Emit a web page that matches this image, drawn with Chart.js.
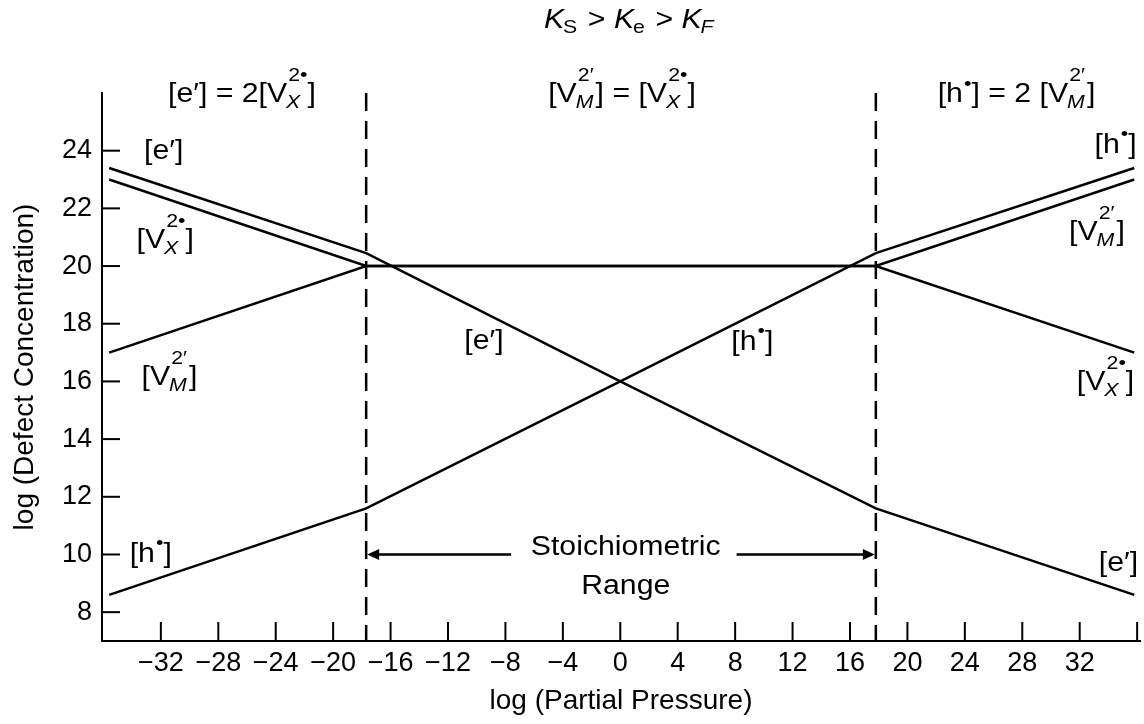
<!DOCTYPE html>
<html>
<head>
<meta charset="utf-8">
<script src="https://cdn.jsdelivr.net/npm/chart.js@4.4.0/dist/chart.umd.min.js"></script>
<style>
  html, body { margin: 0; padding: 0; background: #fff; }
</style>
</head>
<body>
<canvas id="defect-chart" width="1144" height="724"></canvas>
<script>
// log(partial pressure) break points of the Brouwer diagram
const pressure = [-35.6, -17.7, 0, 17.8, 35.8];
const electrons = [23.4, 20.45, 16, 11.6, 8.6];
const holes = [8.6, 11.6, 16, 20.45, 23.4];
const vacancyPressure = [-35.6, -17.7, 17.8, 35.8];
const anionVacancies = [23.0, 20, 20, 17.0];
const cationVacancies = [17.0, 20, 20, 23.0];
const rangeBounds = [-17.7, 17.8];
const rangeArrowY = 10;
const rangeArrowGap = [-7.6, 8.1];
const yTicks = [8, 10, 12, 14, 16, 18, 20, 22, 24];
const xTicks = [-32, -28, -24, -20, -16, -12, -8, -4, 0, 4, 8, 12, 16, 20, 24, 28, 32];
const xTickMarks = xTicks.concat([36]);

const INK = "#000";
const FONT = '"Liberation Sans", Arial, sans-serif';
const SX = 1.12;

const VX = [{ t: "[V" }, { sup: "2\u2022", sub: "X" }, { t: "]" }];
const VM = [{ t: "[V" }, { sup: "2\u2032", sub: "M" }, { t: "]" }];
const E = [{ t: "[e\u2032]" }];
const H = [{ t: "[h" }, { sup: "\u2022", rise: 0.46 }, { t: "]" }];

const labels = [
  { x: -31.8, y: 23.96, parts: E },
  { x: -31.7, y: 20.88, parts: VX },
  { x: -31.4, y: 16.12, parts: VM },
  { x: -32.7, y: 9.99, parts: H },
  { x: -9.5, y: 17.37, parts: E },
  { x: 9.2, y: 17.34, parts: H },
  { x: 34.5, y: 24.17, parts: H },
  { x: 33.2, y: 21.15, parts: VM },
  { x: 33.8, y: 15.95, parts: VX },
  { x: 34.7, y: 9.67, parts: E },
  { x: -26.35, y: 25.93, parts: E.concat([{ t: " = 2" }], VX) },
  { x: 0.12, y: 25.93, parts: VM.concat([{ t: " = " }], VX) },
  { x: 27.6, y: 25.93, parts: H.concat([{ t: " = 2 " }], VM) },
  { x: 0.38, y: 10.24, parts: [{ t: "Stoichiometric" }] },
  { x: 0.38, y: 8.89, parts: [{ t: "Range" }] },
  {
    x: 0.67, y: 28.48,
    parts: [
      { t: "K", it: true }, { sub: "S", drop: 0.15 }, { t: " > " },
      { t: "K", it: true }, { sub: "e", drop: 0.15 }, { t: " > " },
      { t: "K", it: true }, { sub: "F", drop: 0.15 },
    ],
  },
];

function scriptFont(s, small) {
  return (s.match(/[XMF]/) ? "italic " : "") + small + "px " + FONT;
}

function drawRich(ctx, parts, cx, cy, size) {
  const small = Math.round(size * 0.72);
  ctx.save();
  const widths = parts.map((p) => {
    if (p.t) {
      ctx.font = (p.it ? "italic " : "") + size + "px " + FONT;
      return ctx.measureText(p.t).width;
    }
    let a = 0, b = 0;
    if (p.sup) {
      ctx.font = small + "px " + FONT;
      a = ctx.measureText(p.sup).width;
    }
    if (p.sub) {
      ctx.font = scriptFont(p.sub, small);
      b = ctx.measureText(p.sub).width;
    }
    return Math.max(a, b) + 1;
  });
  const total = widths.reduce((s, v) => s + v, 0);
  ctx.translate(cx, cy + size * 0.26);
  ctx.scale(SX, 1);
  ctx.fillStyle = INK;
  ctx.textAlign = "left";
  ctx.textBaseline = "alphabetic";
  let x = -total / 2;
  parts.forEach((p, i) => {
    if (p.t) {
      ctx.font = (p.it ? "italic " : "") + size + "px " + FONT;
      ctx.fillText(p.t, x, 0);
    } else {
      if (p.sup) {
        ctx.font = small + "px " + FONT;
        ctx.fillText(p.sup, x + 1, -size * (p.rise || 0.78));
      }
      if (p.sub) {
        ctx.font = scriptFont(p.sub, small);
        ctx.fillText(p.sub, x - 1, size * (p.drop || 0.22));
      }
    }
    x += widths[i];
  });
  ctx.restore();
}

const annotations = {
  id: "annotations",
  afterDatasetsDraw(chart) {
    const { ctx, chartArea, scales } = chart;
    const xs = scales.x, ys = scales.y;
    ctx.save();
    ctx.strokeStyle = INK;
    ctx.fillStyle = INK;
    ctx.lineWidth = 2;
    // inward tick marks
    xs.ticks.forEach((t) => {
      const px = xs.getPixelForValue(t.value);
      ctx.beginPath();
      ctx.moveTo(px, chartArea.bottom);
      ctx.lineTo(px, chartArea.bottom - 19);
      ctx.stroke();
    });
    ys.ticks.forEach((t) => {
      const py = ys.getPixelForValue(t.value);
      ctx.beginPath();
      ctx.moveTo(chartArea.left, py);
      ctx.lineTo(chartArea.left + 18, py);
      ctx.stroke();
    });
    // stoichiometric range arrows
    const ay = ys.getPixelForValue(rangeArrowY);
    const x0 = xs.getPixelForValue(rangeBounds[0]);
    const x1 = xs.getPixelForValue(rangeBounds[1]);
    const g0 = xs.getPixelForValue(rangeArrowGap[0]);
    const g1 = xs.getPixelForValue(rangeArrowGap[1]);
    ctx.lineWidth = 2.5;
    ctx.beginPath();
    ctx.moveTo(x0 + 10, ay);
    ctx.lineTo(g0, ay);
    ctx.moveTo(g1, ay);
    ctx.lineTo(x1 - 10, ay);
    ctx.stroke();
    ctx.beginPath();
    ctx.moveTo(x0 + 1, ay);
    ctx.lineTo(x0 + 13, ay - 5.5);
    ctx.lineTo(x0 + 13, ay + 5.5);
    ctx.closePath();
    ctx.moveTo(x1 - 1, ay);
    ctx.lineTo(x1 - 13, ay - 5.5);
    ctx.lineTo(x1 - 13, ay + 5.5);
    ctx.closePath();
    ctx.fill();
    ctx.restore();

    labels.forEach((l) => {
      drawRich(ctx, l.parts, xs.getPixelForValue(l.x), ys.getPixelForValue(l.y), 27);
    });
  },
};

function line(xv, yv, dash) {
  return {
    data: xv.map((v, i) => ({ x: v, y: yv[i] })),
    showLine: true,
    borderColor: INK,
    borderWidth: 2.5,
    borderDash: dash || [],
    pointRadius: 0,
    fill: false,
  };
}

const config = {
  type: "scatter",
  data: {
    datasets: [
      line(pressure, electrons),
      line(pressure, holes),
      line(vacancyPressure, anionVacancies),
      line(vacancyPressure, cationVacancies),
      line([rangeBounds[0], rangeBounds[0]], [26, 7], [18, 10]),
      line([rangeBounds[1], rangeBounds[1]], [26, 7], [18, 10]),
    ],
  },
  options: {
    responsive: false,
    devicePixelRatio: 1,
    animation: false,
    layout: { padding: { left: 0, right: 4, top: 93, bottom: 0 } },
    plugins: {
      legend: { display: false },
      tooltip: { enabled: false },
      title: { display: false },
    },
    scales: {
      x: {
        type: "linear",
        min: -36.1,
        max: 36.2,
        afterBuildTicks: (scale) => {
          scale.ticks = xTickMarks.map((v) => ({ value: v }));
        },
        afterFit: (scale) => {
          scale.height = 83;
        },
        ticks: {
          autoSkip: false,
          maxRotation: 0,
          padding: 6,
          color: INK,
          font: { family: FONT, size: 27 },
          callback: (v) => (xTicks.includes(v) ? (v < 0 ? "\u2212" + Math.abs(v) : String(v)) : ""),
        },
        grid: { drawOnChartArea: false, drawTicks: false },
        border: { display: true, color: INK, width: 2 },
        title: {
          display: true,
          text: "log (Partial Pressure)",
          color: INK,
          font: { family: FONT, size: 28 },
          padding: { top: 0, bottom: 6 },
        },
      },
      y: {
        type: "linear",
        min: 7,
        max: 26,
        afterBuildTicks: (scale) => {
          scale.ticks = yTicks.map((v) => ({ value: v }));
        },
        afterFit: (scale) => {
          scale.width = 102;
        },
        ticks: {
          padding: 10,
          color: INK,
          font: { family: FONT, size: 27 },
        },
        grid: { drawOnChartArea: false, drawTicks: false },
        border: { display: true, color: INK, width: 2 },
        title: {
          display: true,
          text: "log (Defect Concentration)",
          color: INK,
          font: { family: FONT, size: 28 },
          padding: { top: 8, bottom: 0 },
        },
      },
    },
  },
  plugins: [annotations],
};

new Chart(document.getElementById("defect-chart"), config);
</script>
</body>
</html>
